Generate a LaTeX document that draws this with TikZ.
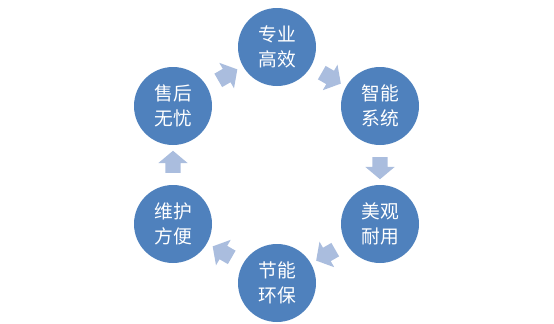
\documentclass[tikz,border=0pt]{standalone}
\usepackage{fontspec}
\newfontfamily\cjk{Noto Sans CJK SC}
\usetikzlibrary{shapes.arrows,calc}
\definecolor{ballblue}{RGB}{79,129,189}
\definecolor{arrowblue}{RGB}{170,189,222}
\tikzset{
  ball/.style={circle,fill=ballblue,minimum size=78*0.03cm,inner sep=0pt,
    text=white,align=center,font=\cjk\fontsize{16}{21}\selectfont},
  blockarrow/.style={single arrow,fill=arrowblue,draw=none,
    inner xsep=0pt,inner ysep=7.5*0.03cm,
    minimum height=22*0.03cm,
    single arrow head extend=7*0.03cm,single arrow tip angle=100}
}
\begin{document}
\begin{tikzpicture}[x=0.03cm,y=0.03cm]
                \useasboundingbox (0,0) rectangle (554,323);

                \node[ball] (zhuanye) at (277,276) {专业\\高效};
                \node[ball] (zhineng) at (380,217) {智能\\系统};
                \node[ball] (meiguan) at (380,99) {美观\\耐用};
                \node[ball] (jieneng) at (277,40) {节能\\环保};
                \node[ball] (weihu) at (173,99) {维护\\方便};
                \node[ball] (shouhou) at (173,217) {售后\\无忧};

                % arrows run clockwise
                \node[blockarrow,rotate=-30] (a1) at ($(zhuanye)!0.5!(zhineng)$) {};
                \node[blockarrow,rotate=-90] (a2) at ($(zhineng)!0.5!(meiguan)$) {};
                \node[blockarrow,rotate=-150] (a3) at ($(meiguan)!0.5!(jieneng)$) {};
                \node[blockarrow,rotate=150] (a4) at ($(jieneng)!0.5!(weihu)$) {};
                \node[blockarrow,rotate=90] (a5) at ($(weihu)!0.5!(shouhou)$) {};
                \node[blockarrow,rotate=30] (a6) at ($(shouhou)!0.5!(zhuanye)$) {};
            \end{tikzpicture}
\end{document}
